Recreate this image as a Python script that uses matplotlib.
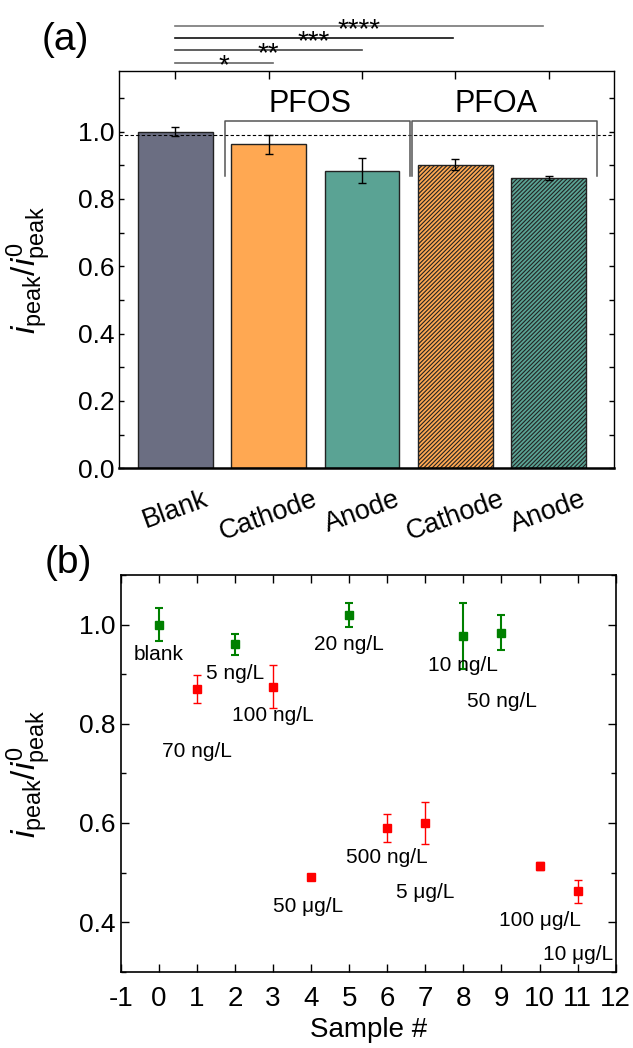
import matplotlib
matplotlib.use("Agg")
import matplotlib.pyplot as plt
from matplotlib.ticker import MultipleLocator, FormatStrFormatter

plt.rcParams['font.family'] = ['Liberation Sans', 'DejaVu Sans']
plt.rcParams['mathtext.fontset'] = 'custom'
plt.rcParams['mathtext.rm'] = 'Liberation Sans'
plt.rcParams['mathtext.it'] = 'Liberation Sans:italic'
plt.rcParams['hatch.linewidth'] = 0.8
plt.rcParams['axes.unicode_minus'] = False

# panel (a) data
bar_labels = ['Blank', 'Cathode', 'Anode', 'Cathode', 'Anode']
bar_values = [1.0, 0.962, 0.884, 0.902, 0.861]
bar_errors = [0.014, 0.029, 0.038, 0.017, 0.006]
bar_colors = ['#6B6E82', '#FFA852', '#5AA394', '#FFA852', '#5AA394']
bar_hatches = ['', '', '', '////////', '////////']
reference_level = 0.99

group_names = ['PFOS', 'PFOA']
group_spans = [(0.536, 2.51), (2.54, 4.515)]
group_text_x = [1.44, 3.44]

sig_marks = ['*', '**', '***', '****']
sig_ends = [1.05, 2.0, 2.97, 3.94]
sig_levels = [1.205, 1.241, 1.277, 1.314]
sig_colors = ['#666666', '#444444', '#111111', '#777777']

# panel (b) data
sample_x = [0, 1, 2, 3, 4, 5, 6, 7, 8, 9, 10, 11]
sample_y = [1.0, 0.870, 0.960, 0.875, 0.490, 1.020, 0.590, 0.600, 0.977, 0.984, 0.5125, 0.462]
sample_err = [0.033, 0.029, 0.021, 0.044, 0.005, 0.024, 0.028, 0.042, 0.066, 0.036, 0.008, 0.023]
sample_group = ['g', 'r', 'g', 'r', 'r', 'g', 'r', 'r', 'g', 'g', 'r', 'r']
sample_labels = ['blank', '70 ng/L', '5 ng/L', '100 ng/L', '50 μg/L', '20 ng/L',
                 '500 ng/L', '5 μg/L', '10 ng/L', '50 ng/L', '100 μg/L', '10 μg/L']
label_x = [0, 1, 2, 3, 3.93, 5, 6, 7, 8, 9, 10, 11]
label_y = [0.929, 0.734, 0.890, 0.805, 0.421, 0.949, 0.519, 0.448, 0.906, 0.834, 0.393, 0.3226]

ylabel = r'$i_{\mathrm{peak}}/i^{0}_{\mathrm{peak}}$'

fig = plt.figure(figsize=(6.33, 10.48), dpi=100)

# ---------------- panel (a) ----------------
ax1 = fig.add_axes([0.1885, 0.5532, 0.7815, 0.3791])
xs = list(range(len(bar_values)))
ax1.bar(xs, bar_values, width=0.8, color=bar_colors, edgecolor='#222222',
        linewidth=1.0, hatch=bar_hatches, zorder=2)
ax1.errorbar(xs, bar_values, yerr=bar_errors, fmt='none', ecolor='black',
             elinewidth=1.0, capsize=2.8, capthick=1.0, zorder=4)
ax1.axhline(reference_level, color='black', lw=0.8, ls=(0, (3, 2)), zorder=3)

for (x0, x1), name, tx in zip(group_spans, group_names, group_text_x):
    ax1.plot([x0, x0, x1, x1], [0.868, 1.03, 1.03, 0.868], color='#555555', lw=1.1, zorder=3)
    ax1.text(tx, 1.059, name, ha='center', va='baseline', fontsize=22)

for mark, x_end, lvl, c in zip(sig_marks, sig_ends, sig_levels, sig_colors):
    ax1.plot([0, x_end], [lvl, lvl], color=c, lw=1.2, clip_on=False)
    ax1.annotate(mark, xy=(x_end / 2, lvl), xytext=(0, -8), textcoords='offset points',
                 ha='center', va='baseline', fontsize=20, annotation_clip=False)

ax1.set_xlim(-0.6, 4.7)
ax1.set_ylim(0, 1.18)
ax1.set_xticks(xs)
ax1.set_xticklabels(bar_labels, rotation=20, ha='center')
ax1.yaxis.set_major_locator(MultipleLocator(0.2))
ax1.yaxis.set_minor_locator(MultipleLocator(0.1))
ax1.yaxis.set_major_formatter(FormatStrFormatter('%.1f'))
ax1.tick_params(axis='x', direction='in', length=6, width=1, top=True, labelsize=19.5, pad=13)
ax1.tick_params(axis='y', which='both', direction='in', length=3.5, width=1, right=True, labelsize=19)
for side in ['left', 'top', 'right']:
    ax1.spines[side].set_linewidth(1.0)
ax1.spines['bottom'].set_linewidth(1.8)
ax1.set_ylabel(ylabel, fontsize=24)
ax1.yaxis.set_label_coords(-0.135, 0.5)

# ---------------- panel (b) ----------------
ax2 = fig.add_axes([0.1907, 0.0728, 0.782, 0.3785])
for grp, col, lw in [('g', 'green', 1.5), ('r', 'red', 1.0)]:
    gx = [x for x, g in zip(sample_x, sample_group) if g == grp]
    gy = [y for y, g in zip(sample_y, sample_group) if g == grp]
    ge = [e for e, g in zip(sample_err, sample_group) if g == grp]
    ax2.errorbar(gx, gy, yerr=ge, fmt='s', color=col, ms=5.5, elinewidth=lw,
                 capsize=2.8, capthick=lw)

for tx, ty, txt in zip(label_x, label_y, sample_labels):
    ax2.text(tx, ty, txt, ha='center', va='baseline', fontsize=15)

ax2.set_xlim(-1, 12)
ax2.set_ylim(0.3, 1.1)
ax2.xaxis.set_major_locator(MultipleLocator(1))
ax2.yaxis.set_major_locator(MultipleLocator(0.2))
ax2.yaxis.set_minor_locator(MultipleLocator(0.1))
ax2.yaxis.set_major_formatter(FormatStrFormatter('%.1f'))
ax2.tick_params(axis='both', which='major', direction='in', length=6, width=1,
                top=True, right=True, labelsize=19)
ax2.tick_params(axis='x', labelsize=20, pad=10)
ax2.tick_params(axis='y', which='minor', direction='in', length=3.3, width=1, right=True)
for side in ax2.spines:
    ax2.spines[side].set_linewidth(1.2)
ax2.set_xlabel('Sample #', fontsize=20)
ax2.set_ylabel(ylabel, fontsize=24)
ax2.yaxis.set_label_coords(-0.137, 0.5)

fig.text(65 / 633, 1 - 40 / 1048, '(a)', ha='center', va='center', fontsize=28)
fig.text(68 / 633, 1 - 563 / 1048, '(b)', ha='center', va='center', fontsize=28)

fig.savefig('out.png', dpi=100)
